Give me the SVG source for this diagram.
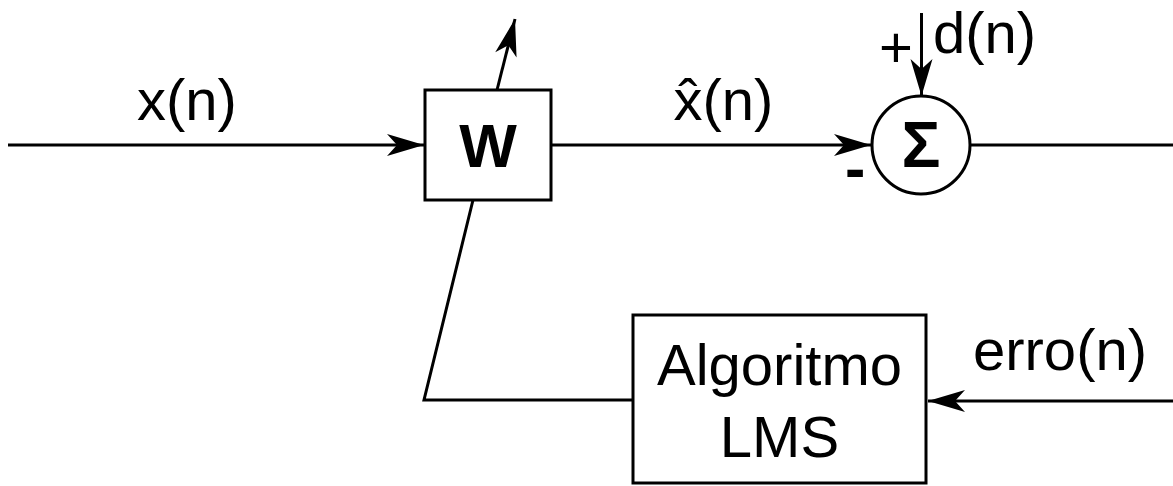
<svg xmlns="http://www.w3.org/2000/svg" width="1173" height="486" viewBox="0 0 1173 486">
  <style>
    .wire { fill: none; stroke: #000; stroke-width: 3; }
    .box { fill: #fff; stroke: #000; stroke-width: 3; }
    .lbl { font-family: "Liberation Sans", Arial, sans-serif; font-size: 58px; fill: #000; }
    .sym { font-family: "Liberation Sans", Arial, sans-serif; font-size: 61px; font-weight: bold; fill: #000; }
    .mid { text-anchor: middle; }
  </style>
  <defs>
    <marker id="arrow" markerUnits="userSpaceOnUse" markerWidth="40" markerHeight="26" viewBox="-38 -13 40 26" refX="0" refY="0" orient="auto">
      <path d="M0,0 L-37,-11 L-27,0 L-37,11 Z" fill="#000"/>
    </marker>
  </defs>

  <!-- signal paths -->
  <g id="connectors">
    <line class="wire" x1="8" y1="145" x2="424" y2="145" marker-end="url(#arrow)"/>
    <line class="wire" x1="551" y1="145" x2="871" y2="145" marker-end="url(#arrow)"/>
    <line class="wire" x1="970" y1="145" x2="1173" y2="145"/>
    <line class="wire" x1="921.5" y1="13" x2="921.5" y2="96" marker-end="url(#arrow)"/>
    <line class="wire" x1="497" y1="90" x2="515" y2="19" marker-end="url(#arrow)"/>
    <polyline class="wire" points="473,200 424,400 633,400"/>
    <line class="wire" x1="1173" y1="401" x2="928" y2="401" marker-end="url(#arrow)"/>
  </g>

  <!-- adaptive filter -->
  <g id="filter-w">
    <rect class="box" x="425" y="90" width="126" height="110"/>
    <text class="sym mid" x="488" y="167">W</text>
  </g>

  <!-- summing junction -->
  <g id="summer">
    <circle class="box" cx="921" cy="145" r="49"/>
    <text class="sym mid" x="921" y="167" style="font-size:65px">Σ</text>
  </g>

  <!-- LMS update block -->
  <g id="lms">
    <rect class="box" x="633" y="315" width="293" height="168"/>
    <text class="lbl mid" x="779.5" y="385">Algoritmo</text>
    <text class="lbl mid" x="779.5" y="457">LMS</text>
  </g>

  <!-- signal labels -->
  <g id="labels">
    <text class="lbl mid" x="187" y="120">x(n)</text>
    <text class="lbl mid" x="723.5" y="120">x̂(n)</text>
    <text class="lbl" x="933" y="53">d(n)</text>
    <text class="lbl" x="879" y="67">+</text>
    <text class="sym" x="845" y="189">-</text>
    <text class="lbl mid" x="1060" y="370">erro(n)</text>
  </g>
</svg>
